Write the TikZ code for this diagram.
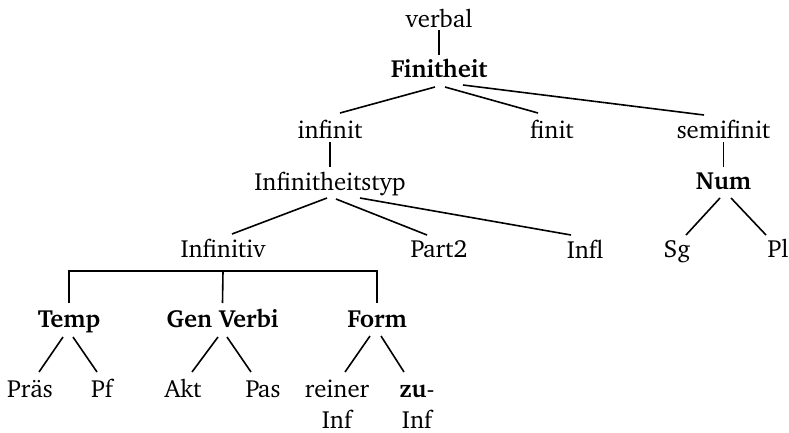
\documentclass[tikz,border=0pt]{standalone}
\usepackage[T1]{fontenc}
\usepackage{charter}
\begin{document}
\begin{tikzpicture}[x=1pt,y=-1pt,
  lbl/.style={anchor=base,inner sep=0pt,font=\fontsize{24.8}{31}\selectfont,align=center},
  bl/.style={lbl,font=\fontsize{24.8}{31}\selectfont\bfseries},
  edge/.style={line width=1.6pt}]
\useasboundingbox (0,0) rectangle (789,432);
% nodes
\node[lbl] (verbal) at (439,27) {verbal};
\node[bl]  (fin)    at (439,77) {Finitheit};
\node[lbl] (infinit) at (330,138) {infinit};
\node[lbl] (finit)   at (552,138) {finit};
\node[lbl] (semi)    at (723.5,138) {semifinit};
\node[lbl] (ityp)    at (330,190) {Infinitheitstyp};
\node[bl]  (num)     at (723.5,189) {Num};
\node[lbl] (inf)     at (223,257) {Infinitiv};
\node[lbl] (part)    at (439,257) {Part2};
\node[lbl] (infl)    at (585,258) {Infl};
\node[lbl] (sg)      at (677,257) {Sg};
\node[lbl] (pl)      at (778,257) {Pl};
\node[bl]  (temp)    at (69,327) {Temp};
\node[bl]  (gv)      at (222.5,327) {Gen Verbi};
\node[bl]  (form)    at (377,327) {Form};
\node[lbl] (praes)   at (30,397) {Pr\"as};
\node[lbl] (pf)      at (102,397) {Pf};
\node[lbl] (akt)     at (183,397) {Akt};
\node[lbl] (pas)     at (263,397) {Pas};
\node[lbl] (reiner)  at (337,428) {reiner\\Inf};
\node[lbl] (zu)      at (417,428) {\textbf{zu}-\\Inf};
% edges
\draw[edge] ([shift={(0,3)}]verbal.base) -- ([shift={(0,-22)}]fin.base);
\draw[edge] ([shift={(-4,10)}]fin.base) -- ([shift={(10,-25)}]infinit.base);
\draw[edge] ([shift={(6,10)}]fin.base) -- ([shift={(-14,-25)}]finit.base);
\draw[edge] ([shift={(24,8)}]fin.base) -- ([shift={(-19.5,-23)}]semi.base);
\draw[edge] ([shift={(0,4)}]infinit.base) -- ([shift={(0,-23)}]ityp.base);
\draw[edge] ([shift={(-3,8)}]ityp.base) -- ([shift={(9,-23)}]inf.base);
\draw[edge] ([shift={(6,9)}]ityp.base) -- ([shift={(-12,-22)}]part.base);
\draw[edge] ([shift={(30,8)}]ityp.base) -- ([shift={(-14,-23)}]infl.base);
\draw[edge] ([shift={(0,4)}]semi.base) -- ([shift={(0,-22)}]num.base);
\draw[edge] ([shift={(-3.5,9)}]num.base) -- ([shift={(9,-22)}]sg.base);
\draw[edge] ([shift={(7.5,9)}]num.base) -- ([shift={(-12,-22)}]pl.base);
\coordinate (bar) at ([shift={(0,14)}]inf.base);
\draw[edge] ([shift={(0,-24)}]temp.base) |- (bar) -| ([shift={(0,-24)}]form.base);
\draw[edge] (bar) -- ([shift={(0,-24)}]gv.base);
\draw[edge] ([shift={(-6,10)}]temp.base) -- ([shift={(9,-25)}]praes.base);
\draw[edge] ([shift={(4,10)}]temp.base) -- ([shift={(-5,-25)}]pf.base);
\draw[edge] ([shift={(-4.5,10)}]gv.base) -- ([shift={(9,-25)}]akt.base);
\draw[edge] ([shift={(4.5,10)}]gv.base) -- ([shift={(-12,-25)}]pas.base);
\draw[edge] ([shift={(-7,9)}]form.base) -- ([shift={(8,-56)}]reiner.base);
\draw[edge] ([shift={(4,9)}]form.base) -- ([shift={(-13,-56)}]zu.base);
\end{tikzpicture}
\end{document}
